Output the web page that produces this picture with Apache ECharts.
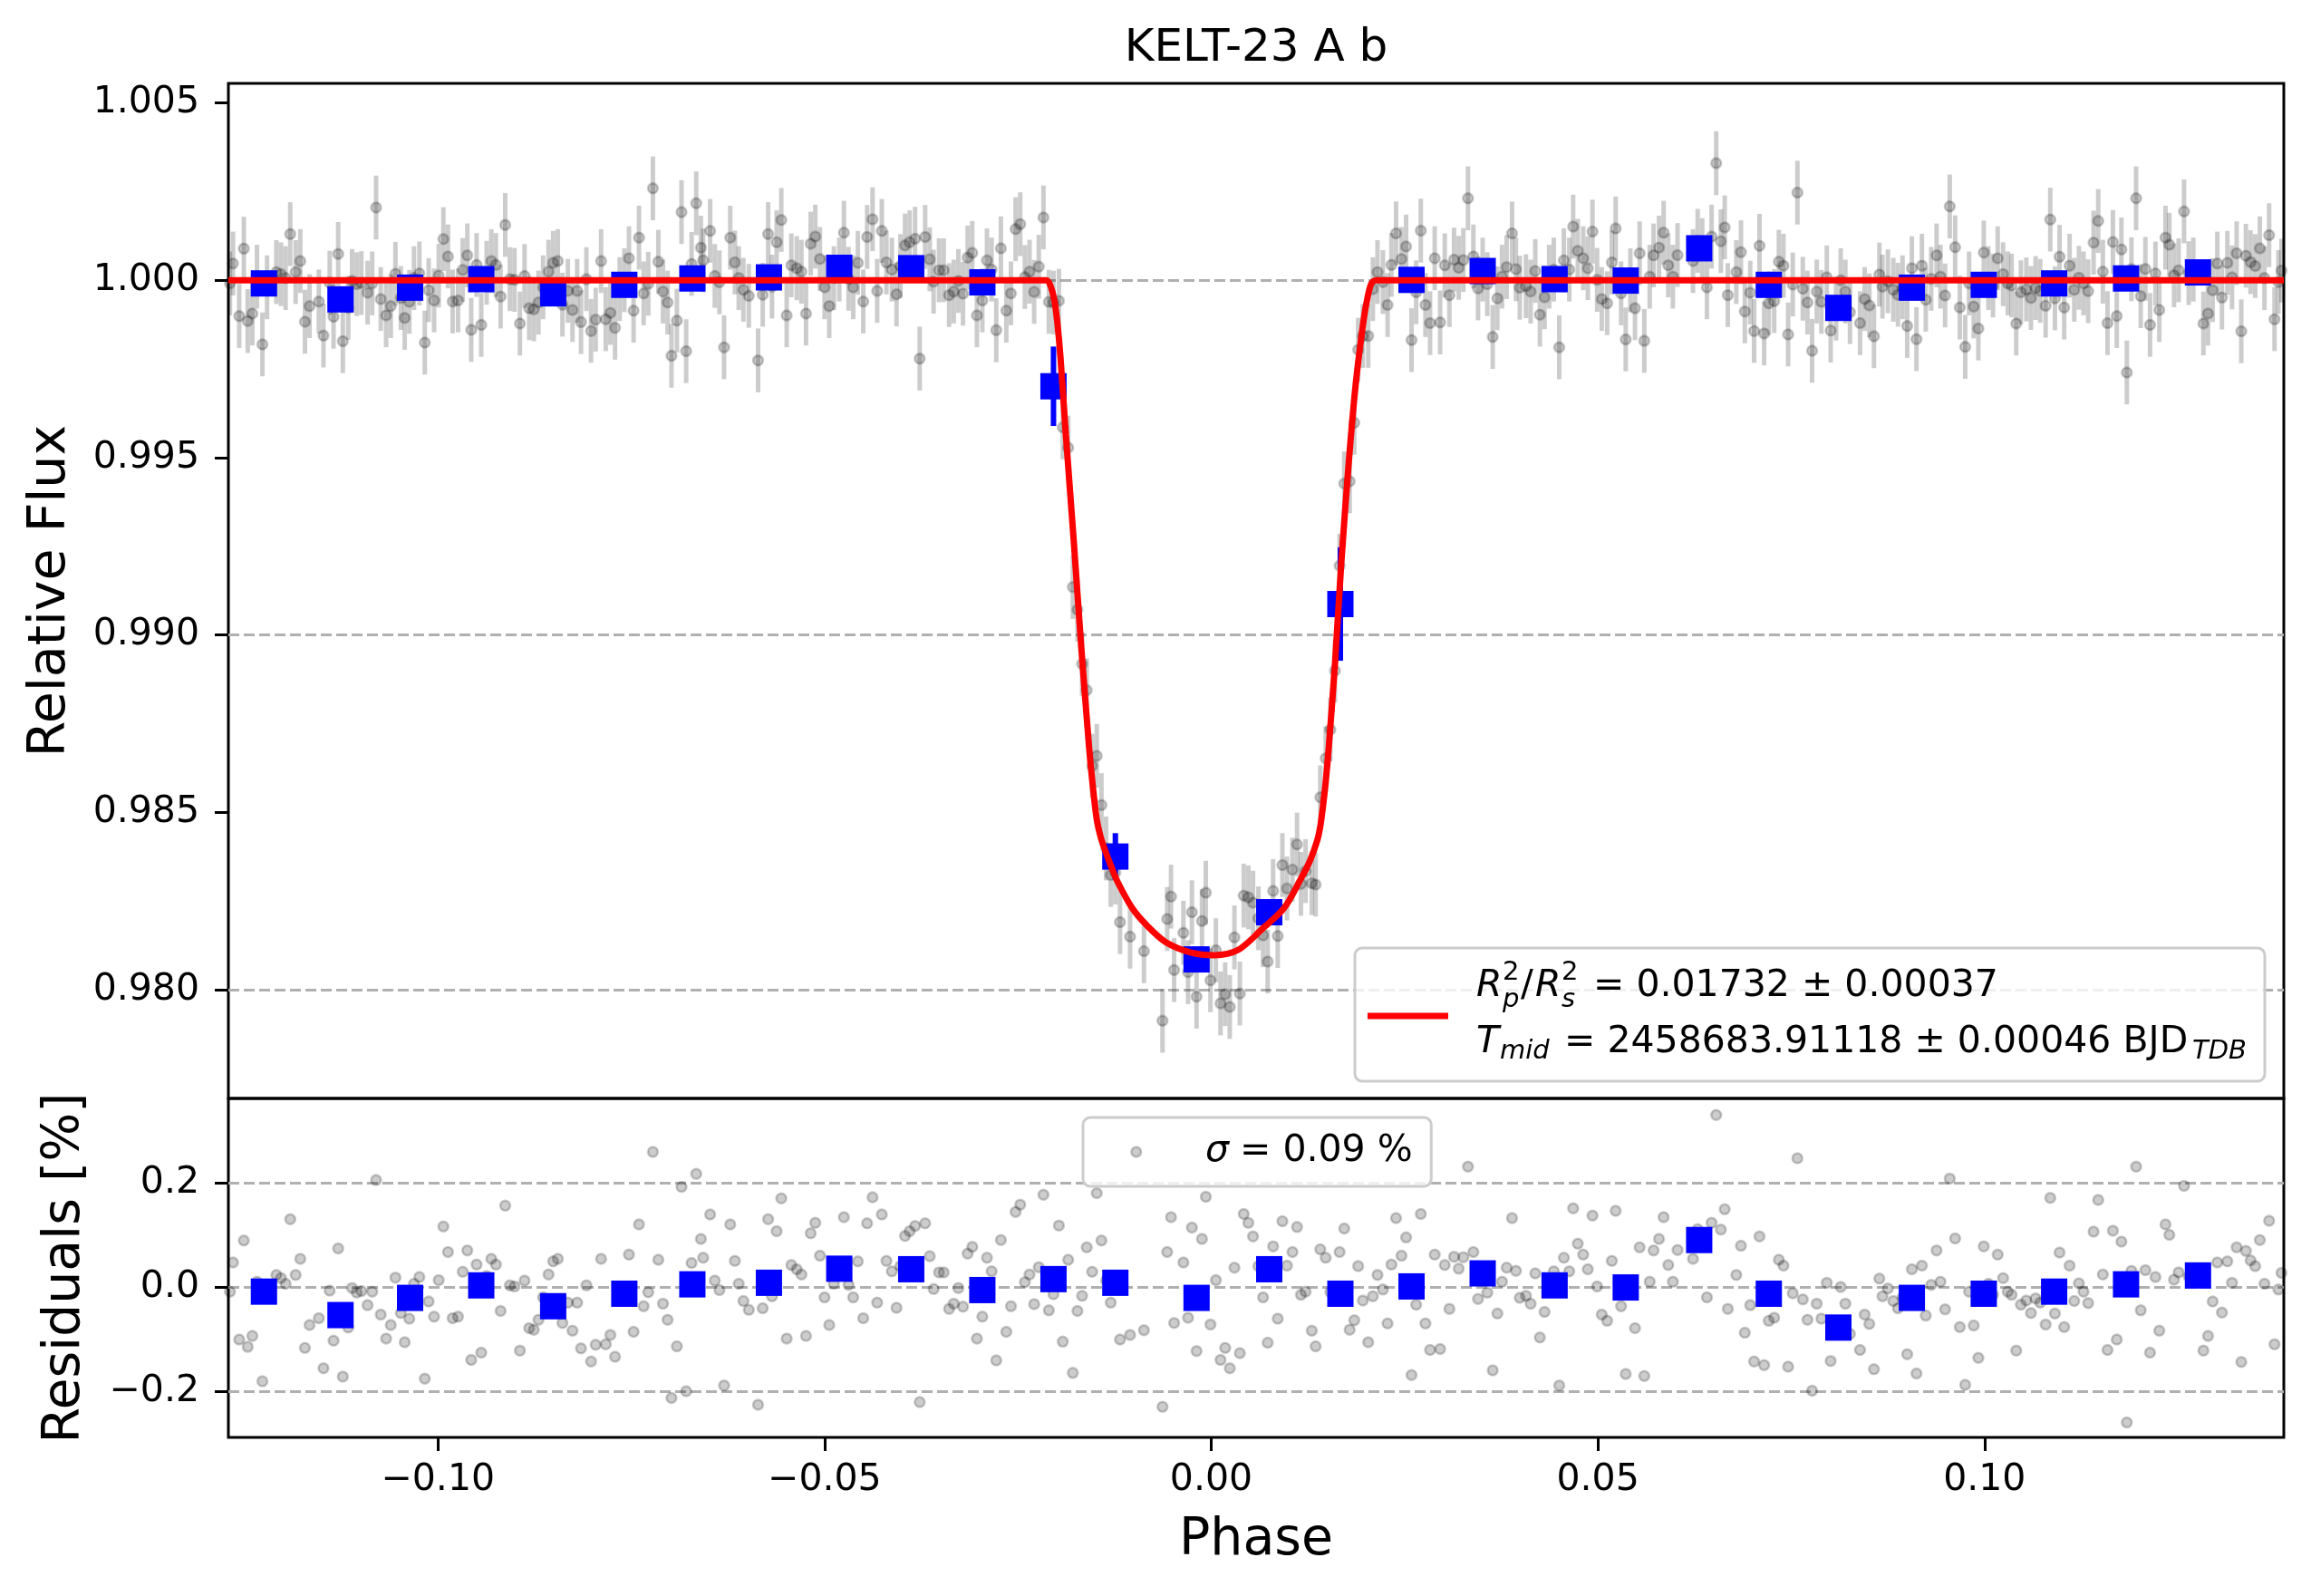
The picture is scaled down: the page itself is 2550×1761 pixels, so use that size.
<!DOCTYPE html>
<html>
<head>
<meta charset="utf-8">
<title>KELT-23 A b</title>
<script src="https://cdn.jsdelivr.net/npm/echarts@6/dist/echarts.min.js"></script>
<style>
html, body { margin: 0; padding: 0; background: #fff; }
#chart { width: 2550px; height: 1761px; }
</style>
</head>
<body>
<div id="chart"></div>
<script>
// folded light curve (phase)
var phase = [
-0.1269,-0.1265,-0.1257,-0.1251,-0.1246,-0.1240,-0.1234,-0.1227,-0.1221,-0.1209,
-0.1203,-0.1197,-0.1191,-0.1184,-0.1178,-0.1172,-0.1166,-0.1154,-0.1148,-0.1140,
-0.1135,-0.1129,-0.1123,-0.1116,-0.1111,-0.1105,-0.1099,-0.1091,-0.1085,-0.1080,
-0.1074,-0.1067,-0.1061,-0.1055,-0.1048,-0.1043,-0.1037,-0.1031,-0.1024,-0.1017,
-0.1012,-0.1005,-0.0999,-0.0993,-0.0987,-0.0981,-0.0974,-0.0968,-0.0962,-0.0957,
-0.0950,-0.0944,-0.0937,-0.0931,-0.0925,-0.0919,-0.0913,-0.0907,-0.0901,-0.0894,
-0.0888,-0.0882,-0.0876,-0.0870,-0.0864,-0.0857,-0.0851,-0.0845,-0.0839,-0.0832,
-0.0826,-0.0820,-0.0815,-0.0808,-0.0802,-0.0796,-0.0789,-0.0783,-0.0777,-0.0771,
-0.0765,-0.0759,-0.0753,-0.0747,-0.0740,-0.0734,-0.0728,-0.0722,-0.0715,-0.0709,
-0.0703,-0.0698,-0.0691,-0.0685,-0.0679,-0.0672,-0.0666,-0.0660,
-0.0657,-0.0648,-0.0642,-0.0636,-0.0630,-0.0622,-0.0616,-0.0611,-0.0605,-0.0598,
-0.0586,-0.0580,-0.0573,-0.0568,-0.0562,-0.0556,-0.0549,-0.0543,-0.0536,-0.0530,
-0.0524,-0.0518,-0.0512,-0.0506,-0.0500,-0.0494,-0.0488,-0.0481,-0.0475,-0.0469,
-0.0463,-0.0457,-0.0450,-0.0445,-0.0438,-0.0432,-0.0426,-0.0420,-0.0413,-0.0407,
-0.0402,-0.0396,-0.0390,-0.0383,-0.0377,-0.0370,-0.0364,-0.0359,-0.0352,-0.0346,
-0.0339,-0.0333,-0.0327,-0.0321,-0.0315,-0.0309,-0.0303,-0.0296,-0.0290,-0.0284,
-0.0278,-0.0272,-0.0265,-0.0259,-0.0253,-0.0247,-0.0241,-0.0235,-0.0229,-0.0223,
-0.0217,
-0.0210,-0.0204,-0.0197,-0.0192,-0.0185,-0.0179,-0.0173,-0.0167,-0.0161,-0.0154,
-0.0148,-0.0142,-0.0136,-0.0130,-0.0124,-0.0118,-0.0105,-0.0087,-0.0063,-0.0057,
-0.0052,-0.0048,-0.0036,-0.0030,-0.0025,-0.0019,-0.0012,-0.0007,-0.0001,0.0006,
0.0012,0.0018,0.0024,0.0030,0.0037,0.0042,0.0048,0.0054,0.0061,0.0067,
0.0073,0.0080,0.0086,0.0092,0.0098,0.0105,0.0111,0.0116,0.0122,0.0130,
0.0135,0.0141,0.0148,0.0154,0.0160,0.0166,0.0172,0.0179,0.0185,0.0190,
0.0196,0.0203,0.0209,
0.0215,0.0222,0.0228,0.0233,0.0239,0.0246,0.0252,0.0259,0.0265,0.0271,
0.0277,0.0283,0.0289,0.0296,0.0302,0.0308,0.0314,0.0320,0.0326,0.0332,
0.0339,0.0345,0.0351,0.0357,0.0364,0.0370,0.0376,0.0382,0.0389,0.0394,
0.0399,0.0407,0.0413,0.0419,0.0425,0.0431,0.0437,0.0443,0.0450,0.0456,
0.0463,0.0468,0.0474,0.0481,0.0487,0.0493,0.0499,0.0505,0.0512,0.0518,
0.0523,0.0530,0.0536,0.0542,0.0548,0.0554,0.0560,0.0567,0.0572,0.0579,
0.0585,0.0591,0.0597,0.0603,0.0623,0.0629,0.0635,0.0641,0.0647,0.0653,
0.0659,0.0664,0.0668,
0.0679,0.0685,0.0690,0.0697,0.0702,0.0709,0.0715,0.0721,0.0728,0.0734,
0.0740,0.0746,0.0752,0.0758,0.0765,0.0771,0.0777,0.0783,0.0789,0.0796,
0.0801,0.0808,0.0814,0.0820,0.0826,0.0839,0.0845,0.0851,0.0857,0.0864,
0.0868,0.0875,0.0882,0.0888,0.0894,0.0900,0.0906,0.0912,0.0919,0.0924,
0.0931,0.0938,0.0943,0.0949,0.0955,0.0962,0.0968,0.0975,0.0980,0.0986,
0.0992,0.0999,0.1005,0.1011,0.1017,0.1024,0.1030,0.1035,0.1041,0.1047,
0.1054,0.1060,0.1066,0.1072,0.1079,0.1085,0.1091,0.1097,0.1103,0.1110,
0.1116,0.1122,0.1128,0.1134,0.1141,0.1147,0.1153,0.1159,0.1166,0.1171,
0.1177,0.1184,0.1190,0.1196,0.1202,0.1208,0.1214,0.1221,0.1226,0.1234,
0.1239,0.1245,0.1251,0.1258,0.1264,0.1270,0.1283,0.1289,0.1295,0.1301,
0.1307,0.1314,0.1320,0.1326,0.1332,0.1338,0.1344,0.1350,0.1356,0.1362,
0.1368,0.1375,0.1380,0.1384
];

var flux = [
0.99991,1.00047,0.99899,1.00089,0.99885,0.99906,1.00010,0.99819,0.99980,1.00023,
1.00017,1.00006,1.00130,1.00023,1.00054,0.99883,0.99927,0.99940,0.99844,0.99993,
0.99897,1.00074,0.99828,0.99922,0.99998,0.99989,0.99992,0.99965,0.99991,1.00205,
0.99947,0.99901,0.99927,1.00018,0.99950,0.99894,0.99939,1.00006,1.00019,0.99824,
0.99972,0.99943,1.00013,1.00116,1.00067,0.99940,0.99943,1.00029,1.00070,0.99860,
1.00043,0.99874,1.00021,1.00054,1.00043,0.99954,1.00156,1.00003,1.00001,0.99878,
1.00012,0.99921,0.99918,0.99937,0.99980,1.00024,1.00049,1.00054,0.99931,0.99970,
0.99916,0.99970,0.99882,1.00003,0.99857,0.99889,1.00054,0.99890,0.99908,0.99866,
0.99975,1.00000,1.00062,0.99914,1.00120,0.99963,0.99990,1.00259,1.00052,0.99968,
0.99937,0.99787,0.99886,1.00192,0.99800,1.00046,1.00217,1.00092,
1.00056,1.00139,1.00012,0.99994,0.99811,1.00120,1.00050,1.00006,0.99973,0.99956,
0.99774,0.99959,1.00130,0.99982,1.00107,1.00170,0.99901,1.00042,1.00034,1.00024,
0.99906,1.00103,1.00123,1.00060,0.99980,0.99927,1.00006,1.00030,1.00134,1.00004,
0.99980,1.00049,0.99940,1.00122,1.00172,0.99970,1.00139,1.00050,1.00030,0.99960,
1.00040,1.00098,1.00107,1.00117,0.99779,1.00122,1.00059,0.99996,1.00028,1.00028,
0.99958,0.99968,0.99998,0.99962,1.00064,1.00077,0.99901,0.99943,1.00056,1.00030,
0.99859,1.00090,0.99914,0.99963,1.00144,1.00158,1.00009,1.00024,0.99967,1.00038,
1.00177,
0.99939,0.99937,0.99942,0.99585,0.99528,0.99135,0.99071,0.98918,0.98844,0.98631,
0.98659,0.98520,0.98398,0.98323,0.98330,0.98190,0.98149,0.98108,0.97912,0.98199,
0.98262,0.98055,0.98160,0.98049,0.98218,0.97980,0.98193,0.98273,0.98026,0.98111,
0.97961,0.97987,0.97951,0.98147,0.97989,0.98265,0.98260,0.98245,0.98201,0.98153,
0.98079,0.98278,0.98151,0.98351,0.98285,0.98338,0.98409,0.98298,0.98334,0.98300,
0.98296,0.98542,0.98652,0.98733,0.98899,0.99195,0.99427,0.99433,0.99598,0.99804,
0.99843,0.99843,0.99975,
1.00023,0.99995,0.99930,1.00043,1.00132,1.00060,1.00095,0.99831,0.99966,1.00140,
0.99930,0.99879,1.00062,0.99881,1.00042,0.99958,1.00058,1.00035,1.00057,1.00231,
1.00067,0.99977,1.00030,0.99989,0.99840,0.99949,1.00010,1.00037,1.00132,1.00031,
0.99979,0.99983,0.99968,1.00026,0.99903,0.99952,1.00010,1.00030,0.99811,1.00056,
1.00030,1.00151,1.00083,1.00062,1.00034,1.00137,1.00001,0.99947,0.99935,1.00050,
1.00146,0.99963,0.99833,1.00000,0.99921,1.00076,0.99829,1.00010,1.00070,1.00092,
1.00134,1.00042,1.00010,1.00071,1.00054,1.00111,1.00085,0.99980,1.00123,1.00330,
1.00110,1.00149,0.99958,
1.00023,1.00079,0.99912,0.99965,0.99857,1.00097,0.99850,0.99935,0.99941,1.00052,
1.00041,0.99847,0.99988,1.00247,0.99976,0.99937,0.99801,0.99968,0.99939,1.00008,
0.99858,0.99920,1.00000,0.99968,0.99910,0.99879,0.99947,0.99929,0.99842,1.00016,
0.99982,0.99997,0.99973,0.99959,0.99980,0.99871,1.00034,0.99834,1.00041,0.99945,
1.00004,1.00070,1.00010,0.99957,1.00208,1.00093,0.99923,0.99812,0.99991,0.99926,
0.99864,1.00078,1.00006,0.99985,1.00062,1.00017,0.99991,0.99985,0.99878,0.99966,
0.99974,0.99950,0.99978,0.99970,0.99928,1.00171,0.99949,1.00066,0.99923,1.00041,
0.99973,1.00007,0.99991,0.99969,1.00106,1.00167,1.00024,0.99879,1.00108,0.99899,
1.00087,0.99740,1.00031,1.00231,0.99955,1.00032,0.99874,1.00019,0.99916,1.00120,
1.00100,1.00014,1.00028,1.00194,1.00020,1.00030,0.99878,0.99906,0.99972,1.00047,
0.99951,1.00049,1.00008,1.00076,0.99856,1.00069,1.00051,1.00040,1.00090,1.00006,
1.00127,0.99890,0.99995,1.00027
];

// residuals in percent
var resid = [
-0.009,0.047,-0.101,0.089,-0.115,-0.094,0.010,-0.181,-0.020,0.023,
0.017,0.006,0.130,0.023,0.054,-0.117,-0.073,-0.060,-0.156,-0.007,
-0.103,0.074,-0.172,-0.078,-0.002,-0.011,-0.008,-0.035,-0.009,0.205,
-0.053,-0.099,-0.073,0.018,-0.050,-0.106,-0.061,0.006,0.019,-0.176,
-0.028,-0.057,0.013,0.116,0.067,-0.060,-0.057,0.029,0.070,-0.140,
0.043,-0.126,0.021,0.054,0.043,-0.046,0.156,0.003,0.001,-0.122,
0.012,-0.079,-0.082,-0.063,-0.020,0.024,0.049,0.054,-0.069,-0.030,
-0.084,-0.030,-0.118,0.003,-0.143,-0.111,0.054,-0.110,-0.092,-0.134,
-0.025,0.000,0.062,-0.086,0.120,-0.037,-0.010,0.259,0.052,-0.032,
-0.063,-0.213,-0.114,0.192,-0.200,0.046,0.217,0.092,
0.056,0.139,0.012,-0.006,-0.189,0.120,0.050,0.006,-0.027,-0.044,
-0.226,-0.041,0.130,-0.018,0.107,0.170,-0.099,0.042,0.034,0.024,
-0.094,0.103,0.123,0.060,-0.020,-0.073,0.006,0.030,0.134,0.004,
-0.020,0.049,-0.060,0.122,0.172,-0.030,0.139,0.050,0.030,-0.040,
0.040,0.098,0.107,0.117,-0.221,0.122,0.059,-0.004,0.028,0.028,
-0.042,-0.032,-0.002,-0.038,0.064,0.077,-0.099,-0.057,0.056,0.030,
-0.141,0.090,-0.086,-0.037,0.144,0.158,0.009,0.024,-0.033,0.038,
0.177,
-0.045,-0.014,0.118,-0.105,0.052,-0.165,-0.046,-0.017,0.076,0.029,
0.180,0.089,0.012,-0.030,0.010,-0.101,-0.092,-0.083,-0.230,0.067,
0.134,-0.069,0.047,-0.059,0.114,-0.123,0.092,0.173,-0.072,0.013,
-0.140,-0.117,-0.156,0.037,-0.127,0.140,0.123,0.097,0.040,-0.020,
-0.107,0.078,-0.061,0.126,0.041,0.067,0.115,-0.015,-0.009,-0.084,
-0.114,0.072,0.056,-0.010,-0.020,0.067,0.112,-0.082,-0.064,0.040,
-0.026,-0.106,-0.018,
0.023,-0.005,-0.070,0.043,0.132,0.060,0.095,-0.169,-0.034,0.140,
-0.070,-0.121,0.062,-0.119,0.042,-0.042,0.058,0.035,0.057,0.231,
0.067,-0.023,0.030,-0.011,-0.160,-0.051,0.010,0.037,0.132,0.031,
-0.021,-0.017,-0.032,0.026,-0.097,-0.048,0.010,0.030,-0.189,0.056,
0.030,0.151,0.083,0.062,0.034,0.137,0.001,-0.053,-0.065,0.050,
0.146,-0.037,-0.167,0.000,-0.079,0.076,-0.171,0.010,0.070,0.092,
0.134,0.042,0.010,0.071,0.054,0.111,0.085,-0.020,0.123,0.330,
0.110,0.149,-0.042,
0.023,0.079,-0.088,-0.035,-0.143,0.097,-0.150,-0.065,-0.059,0.052,
0.041,-0.153,-0.012,0.247,-0.024,-0.063,-0.199,-0.032,-0.061,0.008,
-0.142,-0.080,0.000,-0.032,-0.090,-0.121,-0.053,-0.071,-0.158,0.016,
-0.018,-0.003,-0.027,-0.041,-0.020,-0.129,0.034,-0.166,0.041,-0.055,
0.004,0.070,0.010,-0.043,0.208,0.093,-0.077,-0.188,-0.009,-0.074,
-0.136,0.078,0.006,-0.015,0.062,0.017,-0.009,-0.015,-0.122,-0.034,
-0.026,-0.050,-0.022,-0.030,-0.072,0.171,-0.051,0.066,-0.077,0.041,
-0.027,0.007,-0.009,-0.031,0.106,0.167,0.024,-0.121,0.108,-0.101,
0.087,-0.260,0.031,0.231,-0.045,0.032,-0.126,0.019,-0.084,0.120,
0.100,0.014,0.028,0.194,0.020,0.030,-0.122,-0.094,-0.028,0.047,
-0.049,0.049,0.008,0.076,-0.144,0.069,0.051,0.040,0.090,0.006,
0.127,-0.110,-0.005,0.027
];

var fluxErr = 0.0009;

// binned points (blue)
var binPhase = [-0.1225,-0.1126,-0.1036,-0.0944,-0.0851,-0.0759,-0.0671,-0.0572,-0.0481,-0.0388,
  -0.0296,-0.0204,-0.0124,-0.0019,0.0075,0.0167,0.0259,0.0351,0.0444,0.0536,
  0.0631,0.0721,0.0811,0.0906,0.0999,0.1090,0.1183,0.1276];
var binFlux = [0.99991,0.99946,0.99979,1.00003,0.99963,0.99987,1.00005,1.00008,1.00035,1.00034,
  0.99994,0.99701,0.98375,0.98085,0.98218,0.99087,1.00001,1.00026,1.00003,0.99999,
  1.00090,0.99987,0.99922,0.99979,0.99987,0.99991,1.00005,1.00022];
var binFluxErr = [0.0003,0.0003,0.0003,0.0003,0.0003,0.0003,0.0003,0.0003,0.0003,0.0003,
  0.0003,0.00112,0.00066,0.0003,0.0003,0.0016,0.0003,0.0003,0.0003,0.0003,
  0.0003,0.0003,0.0003,0.0003,0.0003,0.0003,0.0003,0.0003];
var binResid = [-0.009,-0.054,-0.021,0.003,-0.037,-0.013,0.005,0.008,0.035,0.034,
  -0.006,0.015,0.008,-0.021,0.034,-0.013,0.001,0.026,0.003,-0.001,
  0.090,-0.013,-0.078,-0.021,-0.013,-0.009,0.005,0.022];

// transit model (red curve)
var modelPhase = [-0.1271,-0.0213,-0.0208,-0.0203,-0.0199,-0.0195,-0.0188,-0.0178,-0.0168,-0.0158,
  -0.0153,-0.0148,-0.0143,-0.0137,-0.0129,-0.0121,-0.0102,-0.0082,-0.0059,-0.0027,
  0.0004,0.0035,0.0066,0.0094,0.0117,0.0128,0.0137,0.0141,0.0144,0.0148,
  0.0152,0.0160,0.0168,0.0178,0.0187,0.0197,0.0202,0.0207,0.0213,0.1387];
var modelFlux = [1.0,1.0,0.99985,0.99945,0.99880,0.99784,0.99564,0.99271,0.98963,0.98684,
  0.98570,0.98479,0.98430,0.98391,0.98345,0.98303,0.98229,0.98178,0.98134,0.98105,
  0.98097,0.98112,0.98171,0.98229,0.98317,0.98365,0.98420,0.98460,0.98508,0.98585,
  0.98684,0.98919,0.99197,0.99491,0.99711,0.99887,0.99950,0.99990,1.0,1.0];

var phaseTicks = [-0.10, -0.05, 0.00, 0.05, 0.10];
var fluxTicks = [0.980, 0.985, 0.990, 0.995, 1.000, 1.005];
var residTicks = [-0.2, 0.0, 0.2];

var xMin = -0.1271, xMax = 0.1387;
var fluxMin = 0.97693, fluxMax = 1.00555;
var residMin = -0.2887, residMax = 0.3617;

var FONT = 'DejaVu Sans';
var GRID_COLOR = '#b0b0b0';
var CLEAR = 'rgba(0,0,0,0)';

function signed(v, d) {
  return (v < 0 ? '\u2212' : '') + Math.abs(v).toFixed(d);
}

function errorBars(color, width) {
  return function (params, api) {
    var x = api.value(0), y = api.value(1), e = api.value(2);
    var hi = api.coord([x, y + e]);
    var lo = api.coord([x, y - e]);
    return {
      type: 'line',
      shape: { x1: hi[0], y1: hi[1], x2: lo[0], y2: lo[1] },
      style: { stroke: color, lineWidth: width }
    };
  };
}

function txt(x, y, s, size, italic, align, rot) {
  return {
    type: 'text', x: x, y: y, rotation: rot || 0, z: 30, silent: true,
    style: {
      text: s,
      font: (italic ? 'italic ' : '') + size + 'px "DejaVu Sans"',
      fill: '#000',
      textAlign: align || 'left', align: align || 'left',
      textVerticalAlign: 'middle', verticalAlign: 'middle'
    }
  };
}

var fluxPts = [], resPts = [];
for (var i = 0; i < phase.length; i++) {
  fluxPts.push([phase[i], flux[i], fluxErr]);
  resPts.push([phase[i], resid[i]]);
}
var binPts = [], binResPts = [];
for (var j = 0; j < binPhase.length; j++) {
  binPts.push([binPhase[j], binFlux[j], binFluxErr[j]]);
  binResPts.push([binPhase[j], binResid[j]]);
}
var modelPts = [];
for (var k = 0; k < modelPhase.length; k++) modelPts.push([modelPhase[k], modelFlux[k]]);

var grayDot = { color: 'rgba(0,0,0,0.2)', borderColor: 'rgba(0,0,0,0.2)', borderWidth: 2.5, opacity: 1 };
var blueBox = { color: '#0000ff', opacity: 1 };
var tickStyle = { color: '#000', width: 3 };
var labelStyle = { fontSize: 41, color: '#000', fontFamily: FONT };

function gridLines(values) {
  return {
    silent: true, z: 1, animation: false,
    symbol: ['none', 'none'],
    label: { show: false },
    emphasis: { disabled: true },
    lineStyle: { color: GRID_COLOR, width: 3, type: [12, 5], opacity: 1 },
    data: values.map(function (v) { return { yAxis: v }; })
  };
}

var legendBox = {
  orient: 'vertical', backgroundColor: 'rgba(255,255,255,0.8)',
  borderColor: '#cccccc', borderWidth: 3, borderRadius: 8, selectedMode: false, z: 20,
  formatter: function () { return 'x'; }
};

var chart = echarts.init(document.getElementById('chart'));

chart.setOption({
  animation: false,
  backgroundColor: '#ffffff',
  textStyle: { fontFamily: FONT },
  title: {
    text: 'KELT-23 A b', left: 1386, top: 54, textAlign: 'center', textVerticalAlign: 'middle', padding: 0,
    textStyle: { fontSize: 50, fontWeight: 'normal', color: '#000', fontFamily: FONT }
  },
  grid: [
    { left: 252, top: 92, width: 2268, height: 1120, show: true, borderColor: '#000', borderWidth: 3,
      backgroundColor: 'transparent', outerBoundsMode: 'none' },
    { left: 252, top: 1212, width: 2268, height: 374, show: true, borderColor: '#000', borderWidth: 3,
      backgroundColor: 'transparent', outerBoundsMode: 'none' }
  ],
  xAxis: [
    { type: 'value', gridIndex: 0, min: xMin, max: xMax,
      axisLine: { show: false, onZero: false }, axisTick: { show: false },
      axisLabel: { show: false }, splitLine: { show: false } },
    { type: 'value', gridIndex: 1, min: xMin, max: xMax,
      axisLine: { show: false, onZero: false },
      axisTick: { show: true, inside: false, length: 15, lineStyle: tickStyle, customValues: phaseTicks },
      axisLabel: Object.assign({ customValues: phaseTicks, margin: 27, formatter: function (v) { return signed(v, 2); } }, labelStyle),
      splitLine: { show: false } }
  ],
  yAxis: [
    { type: 'value', gridIndex: 0, min: fluxMin, max: fluxMax,
      axisLine: { show: false, onZero: false },
      axisTick: { show: true, inside: false, length: 15, lineStyle: tickStyle, customValues: fluxTicks },
      axisLabel: Object.assign({ customValues: fluxTicks, margin: 32, formatter: function (v) { return v.toFixed(3); } }, labelStyle),
      splitLine: { show: false } },
    { type: 'value', gridIndex: 1, min: residMin, max: residMax,
      axisLine: { show: false, onZero: false },
      axisTick: { show: true, inside: false, length: 15, lineStyle: tickStyle, customValues: residTicks },
      axisLabel: Object.assign({ customValues: residTicks, margin: 32, formatter: function (v) { return signed(v, 1); } }, labelStyle),
      splitLine: { show: false } }
  ],
  legend: [
    Object.assign({}, legendBox, {
      data: [{ name: 'model', icon: 'rect', itemStyle: { color: '#ff0000' } }],
      left: 1495, top: 1046, itemWidth: 89, itemHeight: 7, padding: [10, 14, 7, 14],
      textStyle: { color: CLEAR, fontSize: 41, fontFamily: FONT, lineHeight: 130, width: 882, overflow: 'none' }
    }),
    Object.assign({}, legendBox, {
      data: [{ name: 'resid', icon: 'circle', itemStyle: grayDot }],
      left: 1195, top: 1233, itemWidth: 11, itemHeight: 11, padding: [13, 19, 13, 52],
      textStyle: { color: CLEAR, fontSize: 41, fontFamily: FONT, lineHeight: 50, width: 296, overflow: 'none' }
    })
  ],
  graphic: [
    // legend labels with math sub/superscripts
    txt(1629, 1088, 'R', 41, true),
    txt(1658, 1073, '2', 29, false),
    txt(1658, 1103, 'p', 29, true),
    txt(1678, 1088, '/', 41, false),
    txt(1694, 1088, 'R', 41, true),
    txt(1723, 1073, '2', 29, false),
    txt(1723, 1103, 's', 29, true),
    txt(1758, 1088, '= 0.01732 \u00b1 0.00037', 41, false),
    txt(1629, 1150, 'T', 41, true),
    txt(1655, 1160, 'mid', 29, true),
    txt(1726, 1150, '= 2458683.91118 \u00b1 0.00046 BJD', 41, false),
    txt(2419, 1160, 'TDB', 29, true),
    txt(1330, 1270, '\u03c3', 41, true),
    txt(1368, 1270, '= 0.09 %', 41, false),
    // axis titles
    txt(56, 652, 'Relative Flux', 57, false, 'center', Math.PI / 2),
    txt(72, 1399, 'Residuals [%]', 57, false, 'center', Math.PI / 2),
    txt(1386, 1700, 'Phase', 57, false, 'center')
  ],
  series: [
    { name: 'gridTop', type: 'line', xAxisIndex: 0, yAxisIndex: 0, data: [], silent: true,
      markLine: gridLines(fluxTicks) },
    { name: 'gridRes', type: 'line', xAxisIndex: 1, yAxisIndex: 1, data: [], silent: true,
      markLine: gridLines(residTicks) },
    { name: 'errbars', type: 'custom', xAxisIndex: 0, yAxisIndex: 0, z: 2, silent: true, clip: true,
      renderItem: errorBars('rgba(0,0,0,0.2)', 5), encode: { x: 0, y: 1 }, data: fluxPts },
    { name: 'points', type: 'scatter', xAxisIndex: 0, yAxisIndex: 0, z: 3, silent: true,
      symbol: 'circle', symbolSize: 11, itemStyle: grayDot, data: fluxPts.map(function (p) { return [p[0], p[1]]; }) },
    { name: 'binErr', type: 'custom', xAxisIndex: 0, yAxisIndex: 0, z: 4, silent: true, clip: true,
      renderItem: errorBars('#0000ff', 6), encode: { x: 0, y: 1 }, data: binPts },
    { name: 'bins', type: 'scatter', xAxisIndex: 0, yAxisIndex: 0, z: 5, silent: true,
      symbol: 'rect', symbolSize: 29, itemStyle: blueBox,
      data: binPts.map(function (p) { return [p[0], p[1]]; }) },
    { name: 'model', type: 'line', xAxisIndex: 0, yAxisIndex: 0, z: 6, silent: true,
      showSymbol: false, smooth: 0.3, color: '#ff0000', itemStyle: { color: '#ff0000' },
      lineStyle: { color: '#ff0000', width: 7 }, data: modelPts },
    { name: 'resid', type: 'scatter', xAxisIndex: 1, yAxisIndex: 1, z: 3, silent: true,
      symbol: 'circle', symbolSize: 11, itemStyle: grayDot, data: resPts },
    { name: 'binResid', type: 'scatter', xAxisIndex: 1, yAxisIndex: 1, z: 5, silent: true,
      symbol: 'rect', symbolSize: 29, itemStyle: blueBox, data: binResPts }
  ]
});
</script>
</body>
</html>
